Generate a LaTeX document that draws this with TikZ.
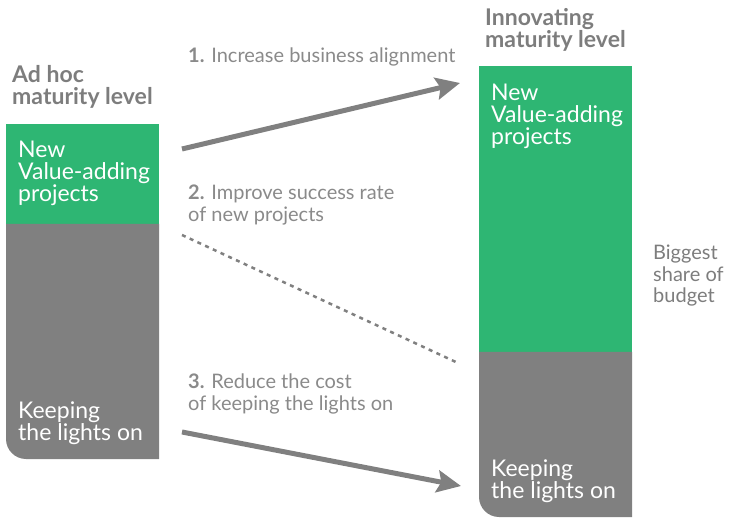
\documentclass[tikz,border=0pt]{standalone}
\usepackage{fontspec}
\setmainfont{Lato}
\usetikzlibrary{arrows.meta}
\usepackage{xcolor}
\definecolor{valgreen}{RGB}{46,182,115}
\definecolor{barfill}{RGB}{128,128,128}
\definecolor{headgray}{RGB}{125,125,125}
\definecolor{labgray}{RGB}{138,138,138}
\tikzstyle{head}=[anchor=base west, align=left, inner sep=0pt, text=headgray, font=\fontsize{23}{22}\selectfont\bfseries]
\tikzstyle{inbar}=[anchor=base west, align=left, inner sep=0pt, text=white, font=\fontsize{23}{22}\selectfont]
\tikzstyle{steplabel}=[anchor=base west, align=left, inner sep=0pt, text=labgray, font=\fontsize{20}{22}\selectfont]
\tikzstyle{bigarrow}=[draw=barfill, line width=5pt, -{Stealth[length=24pt,width=22pt,inset=4pt]}]
\tikzstyle{dotline}=[draw=barfill, line width=2.5pt, dash pattern=on 4pt off 4.5pt]

\begin{document}
\begin{tikzpicture}[x=1pt,y=-1pt]
\useasboundingbox (0,0) rectangle (736,518);
% left column
\fill[valgreen] (6,124) rectangle (159,224);
\fill[barfill] (6,224) -- (159,224) -- (159,459) -- (26,459) .. controls (15,459) and (6,450) .. (6,439) -- cycle;
% right column
\fill[valgreen] (479,66) rectangle (632,352);
\fill[barfill] (479,352) -- (632,352) -- (632,517) -- (499,517) .. controls (488,517) and (479,508) .. (479,497) -- cycle;

% text nodes sit on the baseline of their last line
\node[head] (adhoc) at (12,105) {Ad hoc\\maturity level};
\node[head] (innov) at (485,48) {Innovating\\maturity level};
\node[inbar] (lnew) at (18,202) {New\\Value-adding\\projects};
\node[inbar] (lkeep) at (18,440) {Keeping\\the lights on};
\node[inbar] (rnew) at (491,145) {New\\Value-adding\\projects};
\node[inbar] (rkeep) at (491,498) {Keeping\\the lights on};
\node[steplabel] (step1) at (188,63) {\textbf{1.} Increase business alignment};
\node[steplabel] (step2) at (188,222) {\textbf{2.} Improve success rate\\of new projects};
\node[steplabel] (step3) at (188,410) {\textbf{3.} Reduce the cost\\of keeping the lights on};
\node[steplabel, text=headgray, font=\fontsize{20}{21.5}\selectfont] (budget) at (653,303) {Biggest\\share of\\budget};

\coordinate (a1s) at (182,149);
\coordinate (a1e) at (460,83);
\coordinate (a2s) at (182,235);
\coordinate (a2e) at (458,363);
\coordinate (a3s) at (182,432);
\coordinate (a3e) at (461,486);
\draw[bigarrow] (a1s) -- (a1e);
\draw[dotline] (a2s) -- (a2e);
\draw[bigarrow] (a3s) -- (a3e);
\end{tikzpicture}
\end{document}
